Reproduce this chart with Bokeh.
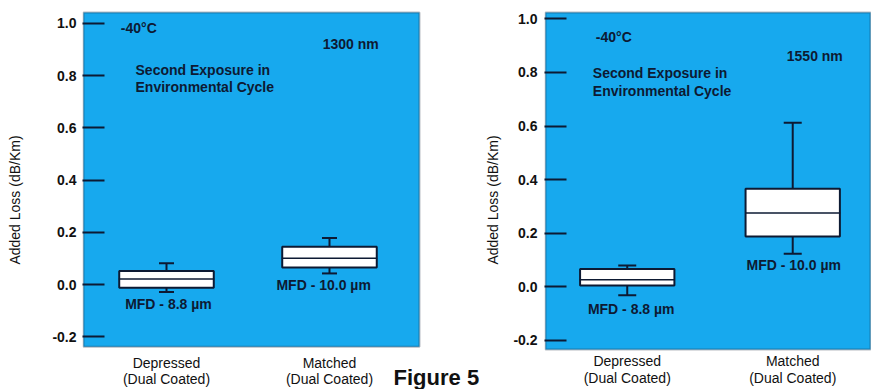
from bokeh.plotting import figure
from bokeh.models import (Range1d, FixedTicker, Whisker, TeeHead,
                          ColumnDataSource, Label, BoxAnnotation)
from bokeh.layouts import row
from bokeh.embed import file_html
from bokeh.resources import INLINE

# ---------------- data ----------------
categories = ["Depressed", "Matched"]
coating = "(Dual Coated)"
mfd_labels = ["MFD - 8.8 µm", "MFD - 10.0 µm"]
y_ticks = [-0.2, 0.0, 0.2, 0.4, 0.6, 0.8, 1.0]
y_tick_labels = ["-0.2", "0.0", "0.2", "0.4", "0.6", "0.8", "1.0"]

# 1300 nm panel
lower_1300 = [-0.028, 0.043]
q1_1300 = [-0.012, 0.066]
median_1300 = [0.022, 0.101]
q3_1300 = [0.052, 0.145]
upper_1300 = [0.082, 0.179]

# 1550 nm panel
lower_1550 = [-0.031, 0.124]
q1_1550 = [0.005, 0.188]
median_1550 = [0.027, 0.276]
q3_1550 = [0.067, 0.366]
upper_1550 = [0.080, 0.612]

BG = "#17a9ee"
DARK = "#0d1a33"
FONT = "Liberation Sans"


def panel(width, height, border_left, border_top, x_rng, y_rng, area,
          lower, q1, med, q3, upper, box_w, cap, wl_text,
          temp_pos, wl_pos, note_pos, mfd_pos, cat_y, label_standoff,
          title_standoff):
    xs = [i + 0.5 for i in range(len(categories))]
    src = ColumnDataSource(dict(x=xs, lower=lower, q1=q1, med=med,
                                q3=q3, upper=upper))
    p = figure(width=width, height=height, x_range=Range1d(*x_rng),
               y_range=Range1d(*y_rng), output_backend="svg",
               toolbar_location=None, x_axis_location=None,
               min_border_left=border_left, min_border_right=0,
               min_border_top=border_top, min_border_bottom=0)
    p.background_fill_color = "white"
    p.border_fill_color = "white"
    p.outline_line_color = None
    p.xgrid.visible = False
    p.ygrid.visible = False

    # blue plotting area with dark frame
    p.add_layout(BoxAnnotation(left=area[0], right=area[1], bottom=area[2],
                               top=area[3], fill_color=BG, fill_alpha=1.0,
                               line_color=DARK, line_width=2,
                               level="underlay"))

    # y axis
    p.yaxis.ticker = FixedTicker(ticks=y_ticks)
    p.yaxis.major_label_overrides = {t: s for t, s in zip(y_ticks, y_tick_labels)}
    p.yaxis.major_tick_in = 22
    p.yaxis.major_tick_out = 0
    p.yaxis.major_tick_line_width = 2
    p.yaxis.major_tick_line_color = DARK
    p.yaxis.minor_tick_line_color = None
    p.yaxis.axis_line_color = None
    p.yaxis.major_label_text_font = FONT
    p.yaxis.major_label_text_font_size = "14px"
    p.yaxis.major_label_text_font_style = "bold"
    p.yaxis.major_label_text_color = "#111111"
    p.yaxis.major_label_standoff = label_standoff
    p.yaxis.axis_label = "Added Loss (dB/Km)"
    p.yaxis.axis_label_text_font = FONT
    p.yaxis.axis_label_text_font_size = "14px"
    p.yaxis.axis_label_text_font_style = "normal"
    p.yaxis.axis_label_text_color = "#111111"
    p.yaxis.axis_label_standoff = title_standoff

    # whiskers
    w = Whisker(base="x", lower="lower", upper="upper", source=src,
                line_color=DARK, line_width=2, level="underlay",
                upper_head=TeeHead(size=cap, line_color=DARK, line_width=2),
                lower_head=TeeHead(size=cap, line_color=DARK, line_width=2))
    p.add_layout(w)
    # boxes
    p.vbar(x="x", bottom="q1", top="q3", width=box_w, source=src,
           fill_color="white", line_color=DARK, line_width=2)
    p.rect(x="x", y="med", width=box_w, height=0.0001, source=src,
           fill_color=None, line_color=DARK, line_width=1.5)

    def lab(x, y, text, align="left", size="14px", color=DARK, style="bold"):
        p.add_layout(Label(x=x, y=y, text=text, text_font=FONT,
                           text_font_size=size, text_color=color,
                           text_font_style=style,
                           text_align=align, text_baseline="middle"))

    lab(temp_pos[0], temp_pos[1], "-40°C")
    lab(wl_pos[0], wl_pos[1], wl_text)
    lab(note_pos[0], note_pos[1], "Second Exposure in")
    lab(note_pos[0], note_pos[2], "Environmental Cycle")
    for (mx, my), t in zip(mfd_pos, mfd_labels):
        lab(mx, my, t, align="center")
    # category labels
    for x, c in zip(xs, categories):
        lab(x, cat_y[0], c, align="center", color="#111111", style="normal")
        lab(x, cat_y[1], coating, align="center", color="#111111", style="normal")
    return p, lab


p1, lab1 = panel(482, 389, 82, 7, (-0.0153, 2.4387), (-0.4013, 1.0494),
                 (-0.0092, 2.052, -0.238, 1.0418),
                 lower_1300, q1_1300, median_1300, q3_1300, upper_1300, 0.58, 15,
                 "1300 nm", (0.22, 0.981), (1.458, 0.920), (0.31, 0.822, 0.757),
                 [(0.512, -0.075), (1.464, -0.003)], (-0.299, -0.363), 6, 26)
lab1(1.893, -0.356, "Figure 5", size="22px", color="#111111", style="bold")

p2, lab2 = panel(389, 389, 57, 10, (0.0, 1.976), (-0.3828, 1.031),
                 (0.006, 1.970, -0.2336, 1.0235),
                 lower_1550, q1_1550, median_1550, q3_1550, upper_1550, 0.57, 18,
                 "1550 nm", (0.31, 0.934), (1.464, 0.863), (0.292, 0.796, 0.729),
                 [(0.524, -0.081), (1.506, 0.083)], (-0.278, -0.340), 7, 9)

layout = row(p1, p2)
open("out.html", "w").write(file_html(layout, INLINE))
